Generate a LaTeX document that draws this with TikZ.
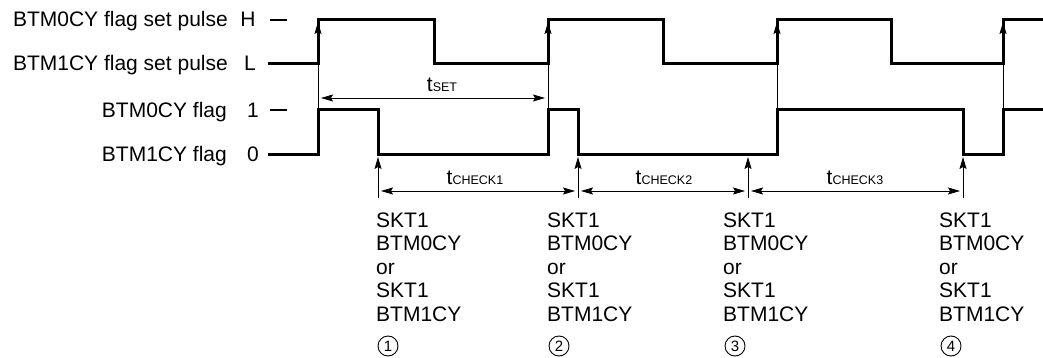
\documentclass[tikz,border=0pt]{standalone}
\usepackage{fontspec}
\setmainfont{Liberation Sans}
\usetikzlibrary{arrows.meta}
\begin{document}
\begin{tikzpicture}[x=1pt,y=-1pt,
  wave/.style={line width=3pt, line join=miter, line cap=butt},
  tick/.style={line width=1.6pt},
  tip/.style={-{Stealth[length=12pt,width=7pt,inset=2pt]}},
  uparrow/.style={line width=0.8pt, tip},
  dimarrow/.style={line width=0.8pt, {Stealth[length=12pt,width=7pt,inset=2pt]}-{Stealth[length=12pt,width=7pt,inset=2pt]}, shorten <=3pt, shorten >=3pt},
  lbl/.style={font=\fontsize{21}{24}\selectfont, inner sep=0pt},
  sub/.style={font=\fontsize{21}{24}\selectfont, inner sep=0pt, anchor=base},
  num/.style={circle, draw, line width=0.9pt, inner sep=0pt, minimum size=20pt, font=\fontsize{15}{15}\selectfont}
]
\useasboundingbox (0,0) rectangle (1043,358);

% left labels
\node[lbl, anchor=base east] (l1) at (228,27) {BTM0CY flag set pulse};
\node[lbl, anchor=base east] (l2) at (228,71) {BTM1CY flag set pulse};
\node[lbl, anchor=base east] (l3) at (227,118) {BTM0CY flag};
\node[lbl, anchor=base east] (l4) at (227,162) {BTM1CY flag};
\node[lbl, anchor=base] (vH) at (248,27) {H};
\node[lbl, anchor=base] (vL) at (250,71) {L};
\node[lbl, anchor=base] (v1) at (253,118) {1};
\node[lbl, anchor=base] (v0) at (253,162) {0};
\draw[tick] (270,20) -- (287,20);
\draw[tick] (270,110) -- (287,110);

% waveforms
\draw[wave] (268,64) -- (318,64) -- (318,20) -- (434,20) -- (434,64) -- (548,64)
  -- (548,20) -- (663,20) -- (663,64) -- (777,64) -- (777,20) -- (891,20)
  -- (891,64) -- (1003,64) -- (1003,20) -- (1044,20);
\draw[wave] (268,155) -- (318,155) -- (318,110) -- (378,110) -- (378,155) -- (548,155)
  -- (548,110) -- (578,110) -- (578,155) -- (777,155) -- (777,110) -- (963,110)
  -- (963,155) -- (1003,155) -- (1003,110) -- (1044,110);

% coordinates
\foreach \x/\n in {318/a,548/b,777/c,1003/d}{
  \coordinate (f\n) at (\x,110);
  \coordinate (p\n) at (\x,22);
}
\foreach \x/\n in {378/1,578/2,748/3,963/4}{
  \coordinate (s\n) at (\x,198);
  \coordinate (e\n) at (\x,157);
  \coordinate (h\n) at (\x,191);
}
\coordinate (ta) at (318,98);
\coordinate (tb) at (548,98);

% set pulse arrows
\foreach \n in {a,b,c,d}{ \draw[uparrow] (f\n) -- (p\n); }
% check arrows
\foreach \n in {1,2,3,4}{ \draw[uparrow] (s\n) -- (e\n); }

% dimension arrows
\draw[dimarrow] (ta) -- (tb);
\draw[dimarrow] (h1) -- (h2);
\draw[dimarrow] (h2) -- (h3);
\draw[dimarrow] (h3) -- (h4);

\node[sub] (tset) at (442,92) {t{\fontsize{12.5}{12}\selectfont SET}};
\node[sub] (tc1) at (475,185) {t{\fontsize{12.5}{12}\selectfont CHECK1}};
\node[sub] (tc2) at (664,185) {t{\fontsize{12.5}{12}\selectfont CHECK2}};
\node[sub] (tc3) at (855,185) {t{\fontsize{12.5}{12}\selectfont CHECK3}};

% bottom text blocks
\foreach \x/\n/\cx in {376/1/388,547/2/559,723/3/735,939/4/951}{
  \node[lbl, anchor=base west] (k\n a) at (\x,227) {SKT1};
  \node[lbl, anchor=base west] (k\n b) at (\x,250.5) {BTM0CY};
  \node[lbl, anchor=base west] (k\n c) at (\x,274) {or};
  \node[lbl, anchor=base west] (k\n d) at (\x,297.5) {SKT1};
  \node[lbl, anchor=base west] (k\n e) at (\x,321) {BTM1CY};
  \node[num] (n\n) at (\cx,346) {\n};
}
\end{tikzpicture}
\end{document}
